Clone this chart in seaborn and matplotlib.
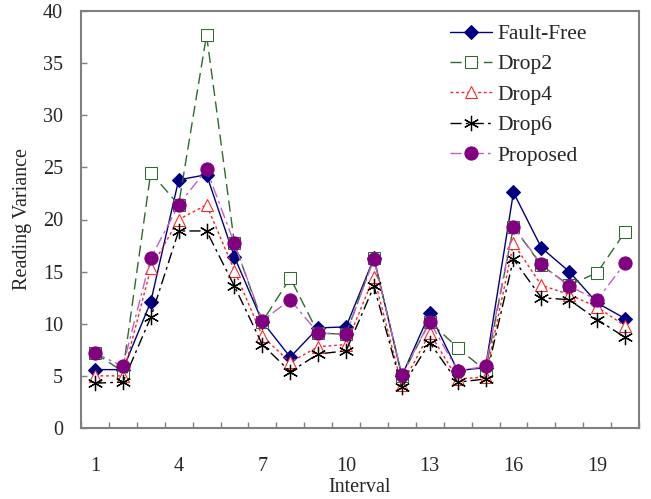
import matplotlib
matplotlib.use("Agg")
import matplotlib.pyplot as plt
import seaborn as sns
import numpy as np
from matplotlib.ticker import FixedLocator, NullFormatter, FixedFormatter

intervals = list(range(1, 21))
fault_free = [5.6, 5.6, 12.1, 23.8, 24.3, 16.4, 10.2, 6.8, 9.6, 9.7, 16.3, 5.0, 11.0, 5.5, 5.8, 22.6, 17.3, 15.0, 12.0, 10.5]
drop2 = [7.2, 5.4, 24.5, 21.4, 37.7, 17.7, 10.2, 14.4, 9.1, 9.0, 16.3, 5.0, 10.2, 7.7, 5.5, 19.3, 15.6, 13.7, 14.9, 18.8]
drop4 = [5.0, 5.0, 15.3, 20.0, 21.4, 15.1, 8.8, 6.3, 7.8, 8.0, 14.5, 4.1, 9.1, 4.7, 4.9, 17.7, 13.7, 12.8, 11.6, 9.8]
drop6 = [4.3, 4.4, 10.6, 18.9, 18.9, 13.6, 8.0, 5.4, 7.1, 7.4, 13.6, 3.9, 8.2, 4.4, 4.7, 16.2, 12.5, 12.3, 10.4, 8.7]
proposed = [7.2, 5.9, 16.3, 21.4, 24.8, 17.7, 10.3, 12.3, 9.1, 9.0, 16.2, 5.1, 10.2, 5.5, 5.9, 19.3, 15.7, 13.6, 12.3, 15.8]
series_names = ["Fault-Free", "Drop2", "Drop4", "Drop6", "Proposed"]
xtick_labels = ["1", "4", "7", "10", "13", "16", "19"]
ytick_values = [0, 5, 10, 15, 20, 25, 30, 35, 40]

sns.set_style("white")
plt.rcParams["font.family"] = ["Liberation Serif", "DejaVu Serif"]

FS = 14.5
LFS = 15.5
fig = plt.figure(figsize=(6.51, 4.99), dpi=100)
ax = fig.add_axes([81/651, 71/499, 558/651, 417/499])

styles = [
    dict(color="#000080", linestyle="-", marker="D", markersize=7.5, markerfacecolor="#000080",
         markeredgecolor="#000080", linewidth=1.0),
    dict(color="#2E6B2E", linestyle=(0, (8, 4)), marker="s", markersize=9, markerfacecolor="white",
         markeredgecolor="#2E6B2E", linewidth=1.0),
    dict(color="#FF2020", linestyle=(0, (2, 2)), marker="^", markersize=9, markerfacecolor="white",
         markeredgecolor="#FF2020", linewidth=1.0),
    dict(color="#000000", linestyle=(0, (8, 3, 2, 3)), marker=(6, 2, 0), markersize=11,
         markeredgecolor="#000000", markeredgewidth=0.9, linewidth=1.0),
    dict(color="#C060C0", linestyle=(0, (8, 3, 2, 3)), marker="o", markersize=9.5, markerfacecolor="#800080",
         markeredgecolor="#800080", linewidth=1.0),
]
all_data = [fault_free, drop2, drop4, drop6, proposed]
for name, vals, st in zip(series_names, all_data, styles):
    sns.lineplot(x=intervals, y=vals, ax=ax, label=name, **st)

ax.set_xlim(0.5, 20.5)
ax.set_ylim(0, 40)
ax.set_yticks(ytick_values)
ax.set_yticklabels([str(v) for v in ytick_values], fontsize=FS)
ax.xaxis.set_major_locator(FixedLocator(np.arange(0.5, 21, 1)))
ax.xaxis.set_major_formatter(NullFormatter())
ax.xaxis.set_minor_locator(FixedLocator([1, 4, 7, 10, 13, 16, 19]))
ax.xaxis.set_minor_formatter(FixedFormatter(xtick_labels))
ax.tick_params(axis="x", which="major", direction="in", length=4, width=1, color="#808080")
ax.tick_params(axis="x", which="minor", length=0, labelsize=FS, pad=21)
ax.tick_params(axis="y", direction="in", length=4, width=1, color="#808080", labelsize=FS, pad=13)
ax.tick_params(axis="y", left=True)
ax.tick_params(axis="x", bottom=True)

for sp in ax.spines.values():
    sp.set_color("#808080")
    sp.set_linewidth(1.5)

ax.set_xlabel("Interval", fontsize=FS, labelpad=1)
ax.set_ylabel("Reading Variance", fontsize=FS, labelpad=8)

leg = ax.legend(loc="upper left", bbox_to_anchor=(450/651, 1 - 24/499),
                bbox_transform=fig.transFigure, frameon=False, fontsize=LFS,
                handlelength=1.94, borderaxespad=0, borderpad=0, labelspacing=0.48,
                handletextpad=0.25)

fig.savefig("out.png", dpi=100)
